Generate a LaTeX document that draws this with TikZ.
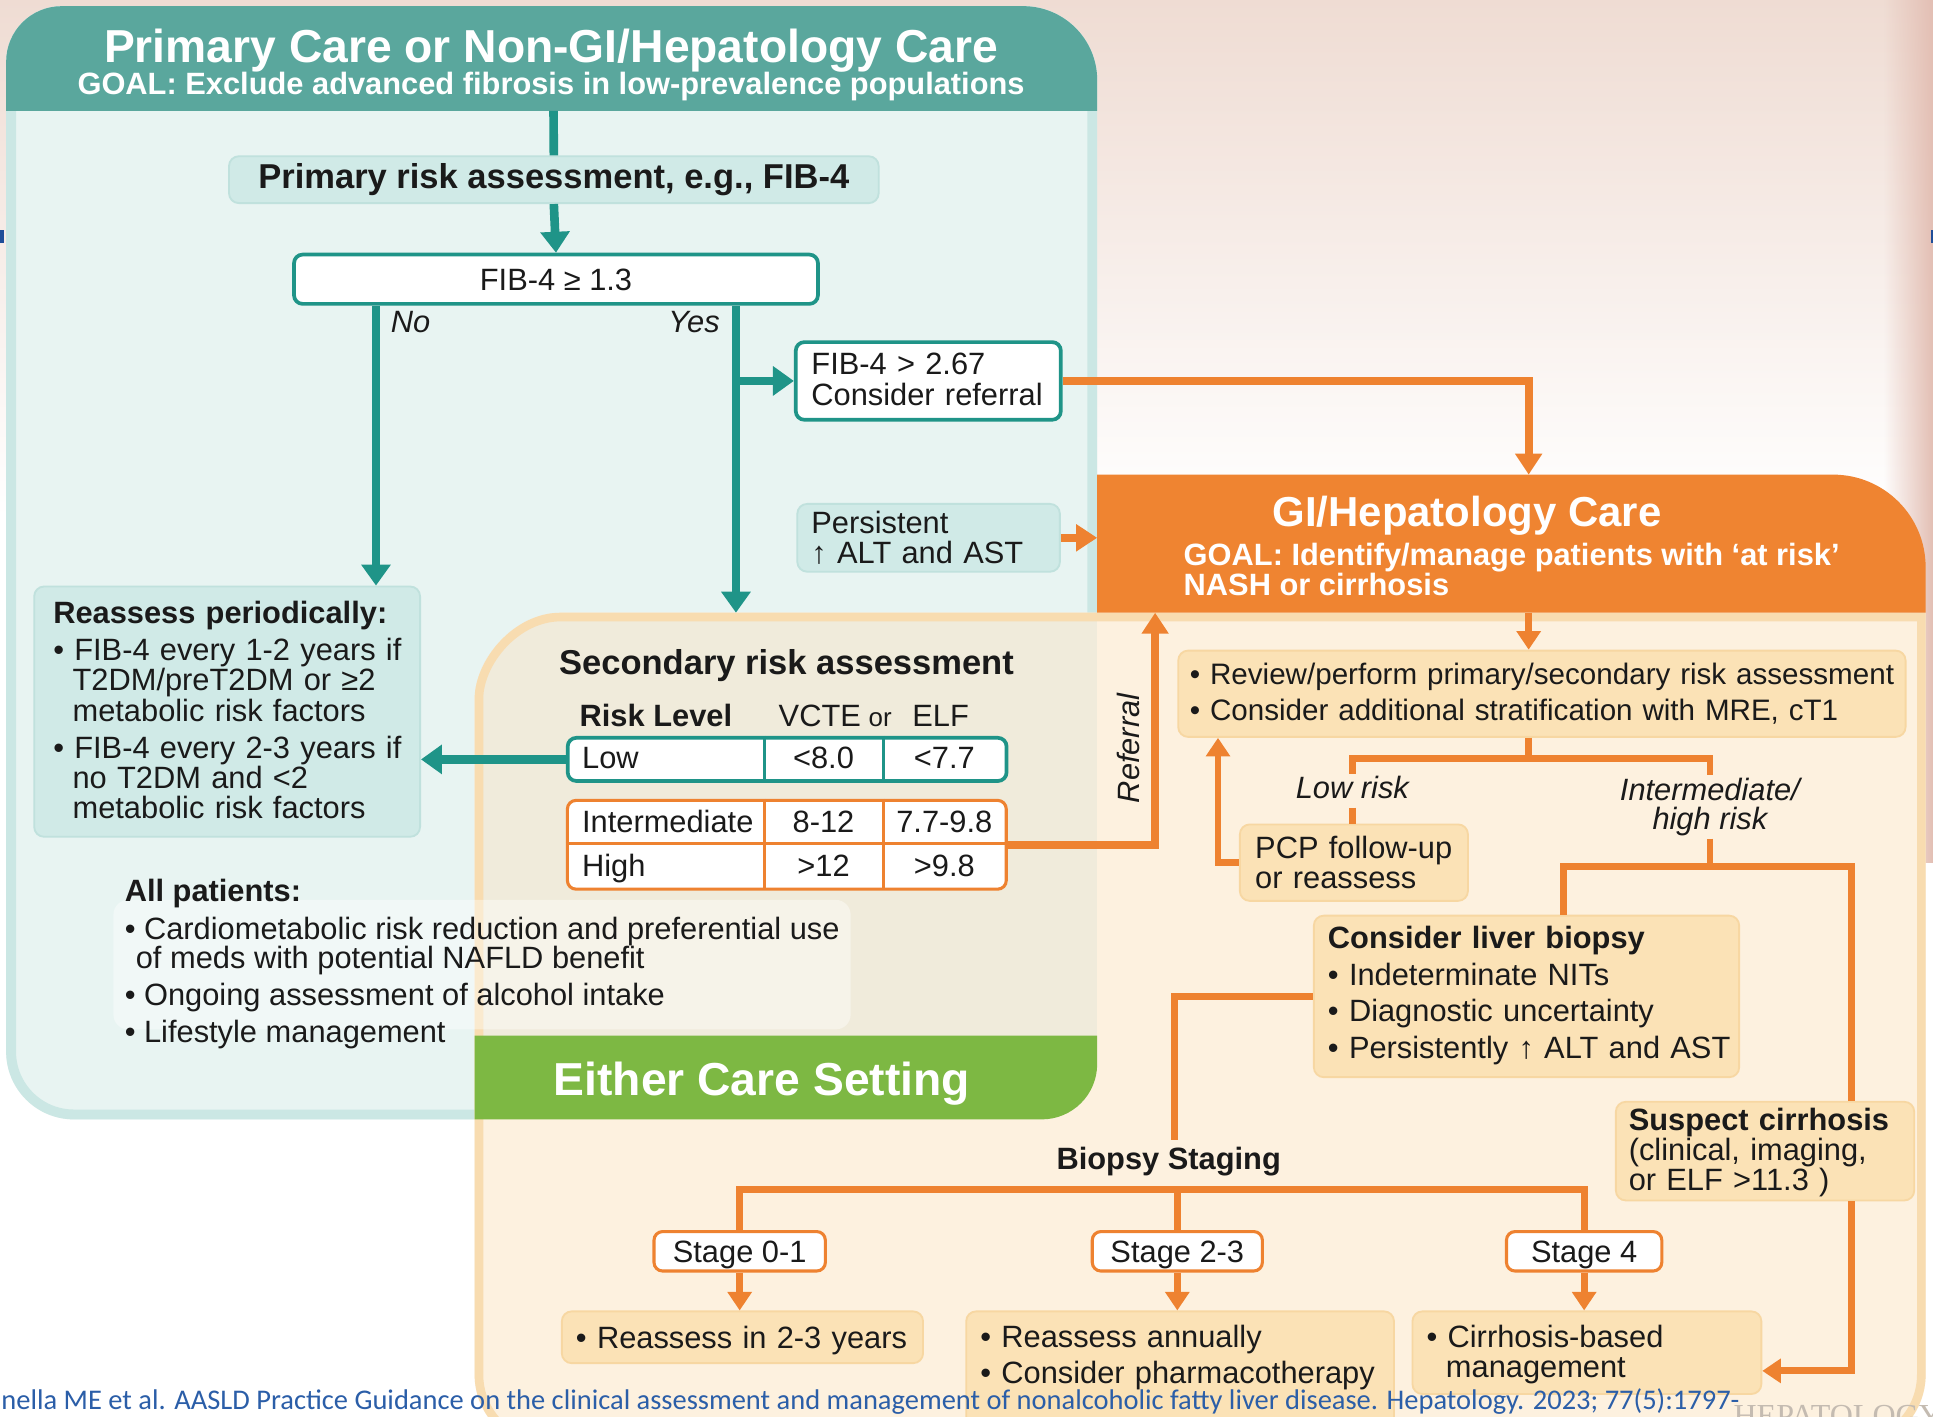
\documentclass[tikz,border=0pt]{standalone}
\usepackage{fontspec}
\setmainfont{Liberation Sans}
\newfontfamily\citefont{Carlito}
\newfontfamily\wmfont{Liberation Serif}
\usetikzlibrary{arrows.meta,fadings}
\definecolor{tealhead}{HTML}{5AA79D}
\definecolor{tealline}{HTML}{1F9488}
\definecolor{tealbody}{HTML}{E8F4F2}
\definecolor{tealedge}{HTML}{CBE7E4}
\definecolor{mint}{HTML}{D0EAE7}
\definecolor{mintedge}{HTML}{C0E1DD}
\definecolor{orline}{HTML}{EE8230}
\definecolor{orhead}{HTML}{EF8431}
\definecolor{peachbody}{HTML}{FDF1DF}
\definecolor{peachedge}{HTML}{F8DCB0}
\definecolor{peachbox}{HTML}{FBE2B6}
\definecolor{peachboxedge}{HTML}{F7D7A2}
\definecolor{beige}{HTML}{F0EBDB}
\definecolor{greenband}{HTML}{7DB843}
\definecolor{pinktop}{HTML}{EFDCD3}
\definecolor{rstrip}{HTML}{E3BFB4}
\definecolor{citeblue}{HTML}{2B5EA8}
\definecolor{markblue}{HTML}{1F4E99}
\definecolor{wmgray}{HTML}{C4BBB1}
\definecolor{ink}{HTML}{1A1A1A}
\newcommand{\myfs}[2]{\fontsize{#1}{#2}\selectfont}
\newcommand{\myind}{\hspace*{15.7pt}}
\begin{document}
\begin{tikzpicture}[x=1pt,y=-1pt,
  every node/.style={inner sep=0pt, text=ink},
  body/.style={font=\myfs{25}{24.5}},
  bodyb/.style={font=\bfseries\myfs{25}{24.5}},
  ital/.style={font=\itshape\myfs{25}{24.5}},
  line1/.style={text height=18pt, text depth=0pt},
  lbl/.style={text height=18pt, text depth=5pt, inner ysep=2pt},
  tx/.style={anchor=base west, align=left, text width=420pt, body},
  tbox/.style={draw=tealline, line width=3pt, fill=white, rounded corners=7pt},
  obox/.style={draw=orline, line width=2.5pt, fill=white, rounded corners=7pt},
  mbox/.style={fill=mint, draw=mintedge, line width=1.5pt, rounded corners=8pt},
  pbox/.style={fill=peachbox, draw=peachboxedge, line width=1.5pt, rounded corners=8pt},
  tline/.style={draw=tealline, line width=7pt},
  tarrow/.style={tline, -{Triangle[length=17pt,width=23pt]}},
  oline/.style={draw=orline, line width=5.5pt},
  oarrow/.style={oline, -{Triangle[length=15pt,width=19pt]}},
  obig/.style={draw=orline, line width=6.5pt, -{Triangle[length=17pt,width=21pt]}},
  divt/.style={draw=tealline, line width=2.5pt},
  divo/.style={draw=orline, line width=2.5pt},
]
\clip (0,0) rectangle (1568,1149);
% ---------- background ----------
\fill[white] (0,0) rectangle (1568,1149);
\shade[top color=pinktop, bottom color=white] (0,0) rectangle (1568,420);
\fill[rstrip, path fading=west] (1528,0) rectangle (1568,700);
\fill[markblue] (0,186.5) rectangle (3,197);
\fill[markblue] (1566,186.5) rectangle (1568,197);
% ---------- teal panel ----------
\begin{scope}
\clip (5,50) .. controls (5,25.15) and (25.15,5) .. (50,5) -- (830,5) .. controls (863.1,5) and (890,31.9) .. (890,65) -- (890,908) -- (60,908) .. controls (29.6,908) and (5,883.4) .. (5,853) -- cycle;
\fill[tealbody] (0,0) rectangle (900,910);
\draw[tealedge, line width=16pt] (5,50) .. controls (5,25.15) and (25.15,5) .. (50,5) -- (830,5) .. controls (863.1,5) and (890,31.9) .. (890,65) -- (890,908) -- (60,908) .. controls (29.6,908) and (5,883.4) .. (5,853) -- cycle;
\fill[tealhead] (0,0) rectangle (900,90);
\end{scope}
% ---------- peach panel ----------
\begin{scope}
\clip (385,567) -- (385,1115) .. controls (385,1148.1) and (411.9,1175) .. (445,1175) -- (1502,1175) .. controls (1535.1,1175) and (1562,1148.1) .. (1562,1115) -- (1562,497) -- (455,497) .. controls (416.3,497) and (385,535.7) .. (385,567) -- cycle;
\fill[peachbody] (380,490) rectangle (1570,1180);
\fill[beige] (385,497) rectangle (890,840);
\draw[peachedge, line width=14pt] (385,567) -- (385,1115) .. controls (385,1148.1) and (411.9,1175) .. (445,1175) -- (1502,1175) .. controls (1535.1,1175) and (1562,1148.1) .. (1562,1115) -- (1562,497) -- (455,497) .. controls (416.3,497) and (385,535.7) .. (385,567) -- cycle;
\end{scope}
% orange header
\fill[orhead] (890,497) -- (890,385) -- (1487,385) .. controls (1528.4,385) and (1562,418.6) .. (1562,460) -- (1562,497) -- cycle;
% green band
\fill[greenband] (385,840) -- (890,840) -- (890,863) .. controls (890,887.9) and (869.9,908) .. (845,908) -- (385,908) -- cycle;
% highlight behind "All patients"
\fill[white, opacity=0.4, rounded corners=12pt] (92,730) rectangle (690,835);
% watermark
\node[anchor=base west, font=\wmfont\myfs{26}{26}, text=wmgray] (wm) at (1406,1157) {HEPATOLOGY};
% ---------- titles ----------
\node[anchor=base, text=white, font=\bfseries\myfs{37.5}{37.5}] (t1) at (447,50.5) {Primary Care or Non-GI/Hepatology Care};
\node[anchor=base, text=white, bodyb] (t1g) at (447,77) {GOAL: Exclude advanced fibrosis in low-prevalence populations};
\node[anchor=base, text=white, font=\bfseries\myfs{34}{34}] (t2) at (1190,427) {GI/Hepatology Care};
\node[anchor=base west, text=white, bodyb] (t2g1) at (960,459) {GOAL: Identify/manage patients with ‘at risk’};
\node[anchor=base west, text=white, bodyb] (t2g2) at (960,483) {NASH or cirrhosis};
\node[anchor=base, text=white, font=\bfseries\myfs{37.5}{37.5}] (t3) at (618,889) {Either Care Setting};
% ---------- teal area boxes ----------
\node[mbox, anchor=north west, minimum width=527pt, minimum height=38pt, font=\bfseries\myfs{28}{28}] (prim) at (185,126) {Primary risk assessment, e.g., FIB-4};
\node[tbox, anchor=north west, minimum width=425pt, minimum height=40pt, body, line1] (fib) at (237,205) {FIB-4 ≥ 1.3};
\node[tbox, anchor=north west, minimum width=215pt, minimum height=63pt] (refer) at (644,276) {};
\node[tx, font=\myfs{25}{25}] (referT) at (658,304) {FIB-4 > 2.67\\Consider referral};
\node[mbox, anchor=north west, minimum width=213pt, minimum height=55pt] (persist) at (646,408) {};
\node[tx, font=\myfs{25}{24}] (persistT) at (658,433) {Persistent\\↑ ALT and AST};
\node[mbox, anchor=north west, minimum width=313pt, minimum height=203pt] (reass) at (27,475) {};
\node[tx] (reassT) at (43,506) {\textbf{Reassess periodically:}\\[5.5pt]
• FIB-4 every 1-2 years if\\\myind T2DM/preT2DM or ≥2\\\myind metabolic risk factors\\[5.5pt]
• FIB-4 every 2-3 years if\\\myind no T2DM and <2\\\myind metabolic risk factors};
\node[ital, anchor=base] (no) at (333,270) {No};
\node[ital, anchor=base] (yes) at (563,270) {Yes};
% ---------- secondary risk assessment ----------
\node[anchor=base, font=\bfseries\myfs{28}{28}] (sec) at (638,547) {Secondary risk assessment};
\node[anchor=base west, bodyb] (hRisk) at (470,589) {Risk Level};
\node[anchor=base, body] (hV) at (665,589) {VCTE};
\node[anchor=base, font=\myfs{21}{21}] (hOr) at (714,589) {or};
\node[anchor=base, body] (hE) at (763,589) {ELF};
\node[tbox, anchor=north west, minimum width=356pt, minimum height=35pt] (lowbox) at (459,597) {};
\draw[divt] (620,597) -- (620,632);
\draw[divt] (717,597) -- (717,632);
\node[body, line1, anchor=west] (cLow) at (472,614.5) {Low};
\node[body, line1] (cLowV) at (668,614.5) {<8.0};
\node[body, line1] (cLowE) at (766,614.5) {<7.7};
\node[obox, anchor=north west, minimum width=356pt, minimum height=72pt] (ihbox) at (459,648) {};
\draw[divo] (459,684) -- (815,684);
\draw[divo] (620,648) -- (620,720);
\draw[divo] (717,648) -- (717,720);
\node[body, line1, anchor=west] (cInt) at (472,666) {Intermediate};
\node[body, line1] (cIntV) at (668,666) {8-12};
\node[body, line1] (cIntE) at (766,666) {7.7-9.8};
\node[body, line1, anchor=west] (cHigh) at (472,702) {High};
\node[body, line1] (cHighV) at (668,702) {>12};
\node[body, line1] (cHighE) at (766,702) {>9.8};
\node[ital, rotate=90] (refl) at (915,607) {Referral};
% ---------- all patients ----------
\node[anchor=base west, bodyb] (ap1) at (101,731) {All patients:};
\node[anchor=base west, body] (ap2) at (101,762) {• Cardiometabolic risk reduction and preferential use};
\node[anchor=base west, body] (ap3) at (110,786) {of meds with potential NAFLD benefit};
\node[anchor=base west, body] (ap4) at (101,816) {• Ongoing assessment of alcohol intake};
\node[anchor=base west, body] (ap5) at (101,846) {• Lifestyle management};
% ---------- GI area ----------
\node[pbox, anchor=north west, minimum width=590pt, minimum height=70pt] (review) at (955,527) {};
\node[tx, text width=600pt, font=\myfs{24}{24.5}] (reviewT) at (965,555.5) {• Review/perform primary/secondary risk assessment\\[4.5pt]• Consider additional stratification with MRE, cT1};
\node[lbl, anchor=base, ital] (lowrisk) at (1097,648) {Low risk};
\node[lbl, anchor=base, ital] (ihriskA) at (1387,649) {Intermediate/};
\node[lbl, anchor=base, ital] (ihriskB) at (1387,673) {high risk};
\node[pbox, anchor=north west, minimum width=185pt, minimum height=62pt] (pcp) at (1005,668) {};
\node[tx, font=\myfs{25}{25}] (pcpT) at (1018,696) {PCP follow-up\\or reassess};
\node[pbox, anchor=north west, minimum width=345pt, minimum height=131pt] (biopsy) at (1065,742) {};
\node[tx] (biopsyT) at (1077,769) {\textbf{Consider liver biopsy}\\[5.5pt]• Indeterminate NITs\\[5.5pt]• Diagnostic uncertainty\\[5.5pt]• Persistently ↑ ALT and AST};
\node[pbox, anchor=north west, minimum width=242pt, minimum height=80pt] (suspect) at (1310,893) {};
\node[tx] (suspectT) at (1321,917) {\textbf{Suspect cirrhosis}\\(clinical, imaging,\\or ELF >11.3 )};
\node[lbl, anchor=base, bodyb, inner ysep=6pt] (bstag) at (948,949) {Biopsy Staging};
\node[obox, minimum width=139pt, minimum height=32pt, body, line1] (st01) at (600,1015) {Stage 0-1};
\node[obox, minimum width=138pt, minimum height=32pt, body, line1] (st23) at (955,1015) {Stage 2-3};
\node[obox, minimum width=126pt, minimum height=32pt, body, line1] (st4) at (1285,1015) {Stage 4};
\node[pbox, anchor=north west, minimum width=293pt, minimum height=42pt] (res1) at (455,1063) {};
\node[tx] (res1T) at (467,1094) {• Reassess in 2-3 years};
\node[pbox, anchor=north west, minimum width=347pt, minimum height=95pt] (res2) at (783,1063) {};
\node[tx] (res2T) at (795,1093) {• Reassess annually\\[4.5pt]• Consider pharmacotherapy};
\node[pbox, anchor=north west, minimum width=283pt, minimum height=67pt] (res3) at (1145,1063) {};
\node[tx] (res3T) at (1157,1093) {• Cirrhosis-based\\\myind management};
% ---------- coordinates ----------
\coordinate (thead) at (449,90);
\coordinate (nox) at (305,0);
\coordinate (yesx) at (597,0);
\coordinate (secin) at (597,497);
\coordinate (ghtop) at (1240,385);
\coordinate (ghbot) at (1240,497);
\coordinate (ghleft) at (890,0);
\coordinate (refx) at (937,0);
\coordinate (rb) at (1240,615);
\coordinate (bbl) at (1268,703);
\coordinate (bbr) at (1502,703);
\coordinate (pcpx) at (988,0);
\coordinate (bsx) at (953,0);
\coordinate (bar) at (0,965);
\coordinate (cbarr) at (1502,1112);
% ---------- connectors ----------
\draw[tline] (thead) -- (prim.north);
\draw[tarrow] (prim.south) -- (fib.north);
\draw[tarrow] (fib.south -| nox) -- (reass.north -| nox);
\draw[tarrow] (fib.south -| yesx) -- (secin);
\draw[tarrow] (refer.west -| yesx) -- (refer.west);
\draw[obig] (refer.east) -| (ghtop);
\draw[obig] (persist.east) -- (persist.east -| ghleft);
\draw[oarrow] (ghbot) -- (ghbot |- review.north);
\draw[oline] (ghbot |- review.south) -- (rb);
\draw[oline] (lowrisk.north) -- (lowrisk.north |- rb) -- (ihriskA.north |- rb) -- (ihriskA.north);
\draw[oline] (lowrisk.south) -- (lowrisk.south |- pcp.north);
\draw[oarrow] (pcp.west) -- (pcp.west -| pcpx) -- (pcpx |- review.south);
\draw[oline] (ihriskB.south) -- (ihriskB.south |- bbl);
\draw[oline] (bbl |- biopsy.north) -- (bbl) -- (bbr) -- (bbr |- suspect.north);
\draw[oline] (biopsy.west) -- (biopsy.west -| bsx) -- (bsx |- bstag.north);
\draw[oline] (st01.north) -- (st01.north |- bar) -- (st4.north |- bar) -- (st4.north);
\draw[oline] (st23.north) -- (st23.north |- bar);
\draw[oarrow] (st01.south) -- (st01.south |- res1.north);
\draw[oarrow] (st23.south) -- (st23.south |- res2.north);
\draw[oarrow] (st4.south) -- (st4.south |- res3.north);
\draw[oarrow] (bbr |- suspect.south) -- (cbarr) -- (cbarr -| res3.east);
\draw[tarrow] (lowbox.west) -- (lowbox.west -| reass.east);
\draw[obig] (ihbox.east) -- (ihbox.east -| refx) -- (refx |- ghbot);
% ---------- citation ----------
\node[anchor=base west, font=\citefont\myfs{23.1}{23}, text=citeblue] (cite) at (1,1143) {nella ME et al. AASLD Practice Guidance on the clinical assessment and management of nonalcoholic fatty liver disease. Hepatology. 2023; 77(5):1797-};
\end{tikzpicture}
\end{document}
